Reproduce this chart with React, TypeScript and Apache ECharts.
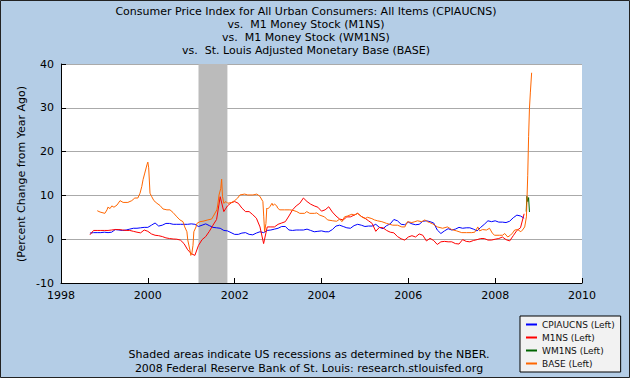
import React, { useEffect, useRef } from "react";
import * as echarts from "echarts";

const titleLines = [
  "Consumer Price Index for All Urban Consumers: All Items (CPIAUCNS)",
  "vs.  M1 Money Stock (M1NS)",
  "vs.  M1 Money Stock (WM1NS)",
  "vs.  St. Louis Adjusted Monetary Base (BASE)",
];
const footerLines = [
  "Shaded areas indicate US recessions as determined by the NBER.",
  "2008 Federal Reserve Bank of St. Louis: research.stlouisfed.org",
];
const yAxisTitle = "(Percent Change from Year Ago)";
const seriesNames = ["CPIAUCNS (Left)", "M1NS (Left)", "WM1NS (Left)", "BASE (Left)"];
const seriesColors = ["#0000ff", "#ff0000", "#006400", "#ff6600"];
const recessionStart = 2001.167;
const recessionEnd = 2001.833;

// CPIAUCNS, monthly % change from year ago, starting Sep 1998
const cpiStart = { year: 1998, month: 9 };
const cpiValues = [
  1.4, 1.5, 1.5, 1.5,
  1.6, 1.5, 1.6, 2.2, 2.1, 2.0, 2.1, 2.3, 2.5, 2.5, 2.6, 2.7,
  2.7, 3.2, 3.7, 3.0, 3.2, 3.6, 3.6, 3.4, 3.4, 3.4, 3.4, 3.4,
  3.5, 3.4, 2.9, 3.2, 3.5, 3.1, 2.7, 2.6, 2.5, 2.0, 1.9, 1.5,
  1.1, 1.1, 1.4, 1.5, 1.1, 1.0, 1.4, 1.7, 1.5, 2.0, 2.1, 2.3,
  2.5, 2.9, 2.9, 2.1, 2.0, 2.1, 2.1, 2.1, 2.3, 2.0, 1.7, 1.8,
  1.9, 1.7, 1.7, 2.2, 3.0, 3.2, 2.9, 2.6, 2.5, 3.1, 3.4, 3.2,
  2.9, 3.0, 3.0, 3.4, 2.7, 2.4, 3.1, 3.5, 4.5, 4.2, 3.4, 3.3,
  3.9, 3.5, 3.3, 3.4, 4.1, 4.2, 4.0, 3.7, 2.1, 1.3, 1.9, 2.4,
  2.1, 2.3, 2.7, 2.5, 2.6, 2.6, 2.3, 1.9, 2.7, 3.4, 4.2, 4.0,
  4.2, 3.9, 3.9, 3.8, 4.1, 4.9, 5.5, 5.3, 4.8,
];

// M1NS, monthly % change from year ago, starting Sep 1998
const m1Start = { year: 1998, month: 9 };
const m1Values = [
  1.0, 2.0, 2.0, 2.0,
  2.0, 2.0, 2.1, 2.2, 2.2, 2.1, 2.0, 2.0, 1.8, 1.6, 1.45, 2.1,
  1.8, 1.2, 0.9, 0.8, 0.6, 0.3, 0.15, 0.05, 0.0, -0.2, -1.0, -2.4,
  -3.3, -3.7, -1.4, -0.1, 0.6, 1.8, 3.2, 4.5, 9.7, 6.3, 7.6, 8.3,
  8.6, 8.2, 7.1, 6.3, 6.3, 5.6, 4.8, 2.8, -1.0, 2.8, 2.8, 2.8,
  3.4, 3.7, 4.0, 5.3, 6.7, 7.6, 8.2, 9.4, 8.6, 8.0, 7.6, 7.3,
  6.4, 6.7, 7.4, 6.2, 5.3, 4.6, 4.4, 5.1, 5.1, 5.5, 5.9, 5.2,
  4.8, 4.2, 3.6, 1.8, 2.7, 2.6, 2.0, 1.6, 1.45, 0.6, 0.1, -0.2,
  0.5, 0.8, 0.5, 1.2, 0.9, -0.4, 0.2, -0.3, -1.2, -0.6, -0.5, -0.6,
  -0.6, -1.0, -1.1, -0.1, -0.5, -0.6, -0.3, -0.1, 0.15, 0.15, -0.2, -0.2,
  0.0, 0.15, 0.5, -0.1, -0.4, 0.8, 2.0, 2.6, 5.8,
];

// WM1NS, weekly, only the last weeks are visible
const wm1Dates = [2008.715, 2008.73, 2008.75, 2008.77, 2008.79];
const wm1Values = [6.3, 9.8, 8.6, 9.5, 6.2];

// BASE, bi-weekly % change from year ago
const baseDates = [
  1998.835, 1998.90, 1999.01, 1999.06, 1999.08, 1999.13, 1999.17, 1999.22, 1999.29, 1999.36,
  1999.43, 1999.54, 1999.63, 1999.70, 1999.77, 1999.82, 1999.86, 1999.89, 1999.93, 1999.98,
  2000.00, 2000.02, 2000.05, 2000.09, 2000.14, 2000.21, 2000.28, 2000.35, 2000.44, 2000.51,
  2000.58, 2000.67, 2000.74, 2000.81, 2000.85, 2000.90, 2000.92, 2000.97, 2000.99, 2001.01,
  2001.04, 2001.06, 2001.11, 2001.13, 2001.20, 2001.27, 2001.38, 2001.47, 2001.50, 2001.59,
  2001.61, 2001.64, 2001.68, 2001.70, 2001.72, 2001.75, 2001.80, 2001.84, 2001.93, 2002.00,
  2002.07, 2002.12, 2002.23, 2002.30, 2002.42, 2002.51, 2002.58, 2002.65, 2002.67, 2002.69,
  2002.72, 2002.74, 2002.76, 2002.81, 2002.86, 2002.88, 2002.92, 2002.97, 2002.99, 2003.04,
  2003.15, 2003.27, 2003.34, 2003.43, 2003.50, 2003.61, 2003.66, 2003.73, 2003.84, 2003.89,
  2003.96, 2004.07, 2004.14, 2004.26, 2004.35, 2004.42, 2004.47, 2004.53, 2004.60, 2004.70,
  2004.76, 2004.83, 2004.93, 2005.00, 2005.06, 2005.16, 2005.22, 2005.29, 2005.39, 2005.50,
  2005.57, 2005.64, 2005.75, 2005.85, 2005.92, 2005.98, 2006.08, 2006.15, 2006.21, 2006.31,
  2006.38, 2006.44, 2006.49, 2006.56, 2006.67, 2006.79, 2006.90, 2007.00, 2007.11, 2007.23,
  2007.34, 2007.46, 2007.53, 2007.60, 2007.64, 2007.71, 2007.80, 2007.87, 2007.94, 2007.99,
  2008.10, 2008.17, 2008.22, 2008.29, 2008.35, 2008.40, 2008.45, 2008.52, 2008.59, 2008.63,
  2008.68, 2008.72, 2008.75, 2008.77, 2008.79, 2008.81, 2008.84,
];
const baseValues = [
  6.5, 6.2, 5.9, 6.7, 7.3, 7.0, 7.6, 7.3, 7.8, 8.8,
  8.4, 8.4, 8.8, 9.4, 9.4, 10.5, 12.0, 13.6, 15.1, 17.0,
  17.6, 16.3, 10.5, 9.7, 8.8, 8.2, 7.7, 6.9, 6.7, 6.7,
  6.1, 5.1, 4.4, 4.0, 2.8, 1.7, -0.2, -2.5, -3.7, -3.5,
  -1.4, 1.7, 2.8, 3.6, 4.0, 4.1, 4.4, 4.6, 5.1, 6.7,
  7.8, 10.1, 11.6, 13.7, 9.7, 8.2, 8.6, 8.2, 8.4, 8.8,
  9.4, 10.1, 10.3, 10.1, 10.1, 10.3, 9.8, 8.6, 5.1, 1.7,
  3.6, 7.1, 6.9, 7.4, 8.2, 7.7, 8.0, 7.6, 7.1, 6.7,
  6.7, 6.7, 6.6, 6.3, 5.9, 5.9, 6.3, 5.9, 5.9, 6.0,
  5.5, 5.1, 4.4, 4.2, 4.1, 4.6, 4.0, 5.1, 5.3, 5.7,
  5.5, 5.9, 5.1, 4.7, 5.0, 4.7, 4.4, 4.2, 4.0, 3.6,
  3.4, 3.2, 3.2, 2.8, 2.8, 4.0, 3.8, 4.0, 4.2, 4.0,
  4.4, 4.0, 3.8, 3.5, 2.8, 2.5, 2.8, 2.2, 1.9, 1.5,
  1.5, 1.5, 1.6, 2.8, 1.9, 2.2, 2.1, 2.5, 1.3, 0.9,
  0.9, 0.9, 1.3, 0.5, 0.9, 1.4, 2.1, 2.2, 1.7, 2.1,
  2.8, 5.1, 14.6, 23.4, 29.9, 33.4, 38.0,
];

const xMin = 1998;
const xMax = 2010;
const xStep = 2;
const yMin = -10;
const yMax = 40;
const yStep = 10;

const FONT = "DejaVu Sans";

function monthly(start: { year: number; month: number }, values: number[]) {
  return values.map((v, i) => [start.year + (start.month - 1 + i) / 12, v]);
}
function paired(dates: number[], values: number[]) {
  return dates.map((d, i) => [d, values[i]]);
}

export default function App() {
  const ref = useRef<HTMLDivElement>(null);
  useEffect(() => {
    document.body.style.margin = "0";
    if (!ref.current) return;
    const chart = echarts.init(ref.current, undefined, { renderer: "svg" });
    const datasets = [
      monthly(cpiStart, cpiValues),
      monthly(m1Start, m1Values),
      paired(wm1Dates, wm1Values),
      paired(baseDates, baseValues),
    ];
    const series: any[] = datasets.map((d, i) => ({
      name: seriesNames[i],
      type: "line",
      data: d,
      showSymbol: false,
      symbol: "none",
      color: seriesColors[i],
      lineStyle: { width: 1, color: seriesColors[i] },
      z: 3 + i,
    }));
    series[0].markArea = {
      silent: true,
      itemStyle: { color: "#bbbbbb" },
      data: [[{ xAxis: recessionStart }, { xAxis: recessionEnd }]],
    };
    const titleY = [11, 24, 37, 50];
    const footerY = [354, 368];
    const graphic: any[] = [
      ...titleLines.map((t, i) => ({
        type: "text",
        x: 306,
        y: titleY[i],
        style: {
          text: t,
          fill: "#000",
          font: `11px "${FONT}"`,
          textAlign: "center",
          textVerticalAlign: "middle",
        },
      })),
      ...footerLines.map((t, i) => ({
        type: "text",
        x: 309,
        y: footerY[i],
        style: {
          text: t,
          fill: "#000",
          font: `11px "${FONT}"`,
          textAlign: "center",
          textVerticalAlign: "middle",
        },
      })),
      {
        type: "text",
        x: 21,
        y: 174,
        rotation: Math.PI / 2,
        style: {
          text: yAxisTitle,
          fill: "#000",
          font: `11px "${FONT}"`,
          textAlign: "center",
          textVerticalAlign: "middle",
        },
      },
      {
        type: "rect",
        shape: { x: 0.5, y: 0.5, width: 629, height: 377 },
        style: { fill: "none", stroke: "#222", lineWidth: 1 },
        silent: true,
      },
    ];
    chart.setOption({
      animation: false,
      backgroundColor: "#b4cde6",
      grid: {
        left: 61,
        top: 64,
        right: 48,
        bottom: 95,
        show: true,
        backgroundColor: "#ffffff",
        borderWidth: 0,
      },
      legend: {
        data: seriesNames,
        orient: "vertical",
        left: 520,
        top: 316,
        icon: "rect",
        itemWidth: 11,
        itemHeight: 2,
        itemGap: 4,
        backgroundColor: "#f2f2f2",
        borderColor: "#000",
        borderWidth: 1,
        padding: [4, 6, 4, 6],
        textStyle: { fontFamily: FONT, fontSize: 9, color: "#111" },
      },
      xAxis: {
        type: "value",
        min: xMin,
        max: xMax,
        interval: xStep,
        axisLine: { show: true, onZero: false, lineStyle: { color: "#000", width: 1 } },
        axisTick: { show: true, inside: true, length: 5, lineStyle: { color: "#000" } },
        axisLabel: {
          formatter: (v: number) => String(v),
          color: "#000",
          fontFamily: FONT,
          fontSize: 11,
          margin: 7,
        },
        splitLine: { show: false },
      },
      yAxis: {
        type: "value",
        min: yMin,
        max: yMax,
        interval: yStep,
        axisLine: { show: true, lineStyle: { color: "#000", width: 1 } },
        axisTick: { show: true, inside: true, length: 5, lineStyle: { color: "#000" } },
        axisLabel: {
          color: "#000",
          fontFamily: FONT,
          fontSize: 11,
          margin: 7,
        },
        splitLine: { show: true, lineStyle: { color: "#aaaaaa", width: 1 } },
      },
      series,
      graphic,
    });
    return () => chart.dispose();
  }, []);
  return <div ref={ref} style={{ width: 630, height: 378 }} />;
}
